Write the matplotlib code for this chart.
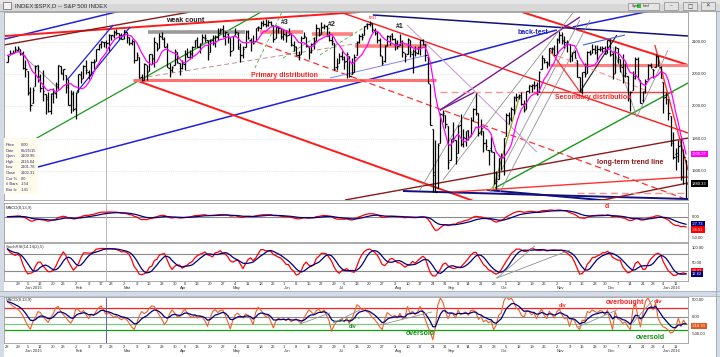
import numpy as np
import pandas as pd
import matplotlib
matplotlib.use("Agg")
import matplotlib.pyplot as plt
from matplotlib.collections import LineCollection
from matplotlib.patches import Rectangle
from matplotlib import transforms

plt.rcParams['font.family'] = ['Liberation Sans', 'DejaVu Sans']

# ---------------- data ----------------
HOLIDAYS = ['2014-12-25', '2015-01-01', '2015-01-19', '2015-02-16', '2015-04-03',
            '2015-05-25', '2015-07-03', '2015-09-07', '2015-11-26', '2015-12-25',
            '2016-01-01', '2016-01-18']
dates = pd.bdate_range('2014-12-22', '2016-01-15')
dates = dates[~dates.isin(pd.to_datetime(HOLIDAYS))]

opens = [
    2069.28, 2081.48, 2083.25, 2084.30, 2087.63, 2088.49, 2082.11,
    2058.90, 2054.44, 2022.15, 2005.55, 2030.61, 2063.45, 2046.13, 2031.58, 2018.40, 2013.75,
    1992.25, 2020.76, 2020.19, 2034.30, 2062.98, 2050.42, 2047.86, 2032.34, 2002.45, 2019.35,
    1996.67, 2022.71, 2048.86, 2043.45, 2062.28, 2053.47, 2049.38, 2068.55, 2069.98, 2088.78,
    2096.47, 2099.16, 2099.25, 2097.65, 2109.83, 2109.10, 2115.30, 2113.91, 2110.88,
    2105.23, 2115.76, 2107.72, 2098.54, 2100.91, 2072.25, 2076.14, 2044.69, 2041.10, 2064.56,
    2055.35, 2080.59, 2072.84, 2098.69, 2090.32, 2107.99, 2103.94, 2093.10, 2059.94, 2055.78,
    2064.11, 2084.05,
    2067.63, 2060.03, 2064.87, 2080.79, 2076.94, 2081.29, 2091.51, 2102.03, 2092.28, 2097.82,
    2105.96, 2102.58, 2084.11, 2102.82, 2098.27, 2107.21, 2112.80, 2119.29, 2108.35, 2112.49,
    2105.52,
    2087.38, 2110.23, 2112.63, 2091.26, 2079.96, 2092.13, 2115.56, 2102.87, 2099.62, 2100.43,
    2122.07, 2121.30, 2129.45, 2127.79, 2125.55, 2130.36, 2125.34, 2105.13, 2122.27, 2120.66,
    2108.64, 2110.41, 2110.64, 2112.35, 2095.09, 2092.34, 2079.07, 2081.12, 2106.24, 2107.43,
    2091.34, 2084.26, 2097.40, 2101.58, 2121.06, 2112.50, 2123.16, 2123.65, 2109.96, 2102.62,
    2098.63, 2061.19,
    2067.00, 2078.03, 2073.95, 2069.52, 2077.66, 2049.73, 2052.74, 2080.03, 2099.72, 2109.21,
    2110.55, 2126.80, 2126.85, 2127.55, 2118.21, 2114.16, 2102.24, 2078.19, 2070.75, 2094.70,
    2106.78, 2111.60,
    2104.49, 2097.68, 2095.27, 2100.75, 2082.61, 2080.98, 2102.66, 2081.10, 2086.19, 2083.15,
    2089.70, 2101.99, 2095.69, 2076.61, 2034.08, 1965.15, 1898.08, 1872.75, 1942.77, 1986.06,
    1986.73,
    1970.09, 1916.52, 1950.79, 1947.76, 1927.74, 1971.45, 1941.59, 1951.45, 1963.06, 1955.10,
    1978.02, 1995.33, 1989.66, 1960.84, 1961.39, 1943.24, 1932.24, 1935.93, 1929.18, 1881.90,
    1887.14,
    1919.65, 1921.77, 1954.33, 1986.63, 1982.34, 1994.01, 2013.73, 2015.65, 2015.00, 2003.66,
    1996.47, 2024.37, 2031.73, 2033.13, 2033.47, 2021.88, 2058.19, 2075.08, 2068.75, 2066.48,
    2088.35, 2090.00,
    2080.76, 2102.63, 2110.60, 2101.68, 2098.60, 2096.56, 2077.19, 2083.41, 2072.29, 2044.64,
    2022.08, 2053.67, 2051.99, 2083.70, 2082.82, 2089.41, 2084.42, 2089.30, 2088.82, 2090.95,
    2082.93, 2101.71, 2080.71, 2051.24, 2090.42, 2073.39, 2061.17, 2047.93, 2047.27, 2013.37,
    2025.55, 2046.50, 2073.76, 2040.81, 2010.27, 2023.15, 2042.20, 2063.52, 2057.77, 2060.54,
    2077.34, 2060.59,
    2038.20, 2013.78, 2011.71, 1985.32, 1945.97, 1926.12, 1927.83, 1940.34, 1891.68, 1916.68,
]
highs = [
    2078.76, 2086.73, 2087.56, 2092.70, 2093.55, 2088.49, 2085.58,
    2072.36, 2054.44, 2030.25, 2029.61, 2064.08, 2064.43, 2049.30, 2056.93, 2018.40, 2021.35,
    2020.46, 2028.94, 2038.29, 2064.62, 2062.98, 2057.62, 2047.86, 2042.49, 2024.64, 2023.32,
    2021.66, 2050.30, 2054.74, 2063.55, 2072.40, 2056.16, 2070.86, 2073.48, 2088.53, 2097.03,
    2101.30, 2100.23, 2102.13, 2111.85, 2110.05, 2117.94, 2119.59, 2113.91, 2112.74,
    2117.52, 2115.76, 2107.72, 2104.25, 2100.91, 2083.49, 2076.14, 2050.08, 2066.41, 2064.56,
    2081.41, 2080.59, 2106.85, 2098.69, 2113.92, 2114.86, 2107.63, 2097.43, 2067.15, 2062.83,
    2088.97, 2084.05,
    2067.63, 2072.17, 2086.99, 2089.81, 2086.69, 2093.31, 2102.61, 2107.65, 2098.62, 2111.91,
    2111.30, 2102.58, 2103.94, 2109.64, 2109.98, 2120.49, 2120.92, 2125.92, 2116.04, 2113.65,
    2105.52,
    2108.41, 2120.95, 2115.24, 2098.42, 2092.90, 2117.66, 2117.69, 2105.06, 2110.19, 2121.45,
    2123.89, 2131.78, 2133.02, 2134.72, 2133.31, 2132.15, 2125.34, 2126.22, 2122.27, 2120.66,
    2119.15, 2117.59, 2121.92, 2112.89, 2100.99, 2093.01, 2085.62, 2108.50, 2115.02, 2107.43,
    2091.34, 2097.40, 2106.79, 2126.65, 2121.64, 2129.87, 2128.03, 2125.10, 2116.04, 2108.92,
    2098.63, 2074.28,
    2082.78, 2085.06, 2078.61, 2083.74, 2077.66, 2074.28, 2081.31, 2100.67, 2111.98, 2114.14,
    2124.42, 2128.91, 2132.82, 2128.49, 2121.06, 2116.87, 2106.01, 2078.19, 2095.60, 2110.60,
    2110.48, 2114.24,
    2105.70, 2102.51, 2112.66, 2103.32, 2082.61, 2105.35, 2102.66, 2089.06, 2092.93, 2092.45,
    2102.87, 2103.47, 2096.17, 2076.61, 2034.08, 1965.15, 1948.04, 1943.09, 1989.60, 1993.48,
    1986.73,
    1970.09, 1948.91, 1975.01, 1947.76, 1970.42, 1988.63, 1965.29, 1961.05, 1963.06, 1983.19,
    1997.26, 2020.86, 1989.66, 1979.64, 1961.39, 1949.52, 1932.24, 1952.89, 1929.18, 1899.48,
    1920.53,
    1927.21, 1951.36, 1989.17, 1991.62, 1999.31, 2016.50, 2020.13, 2018.66, 2022.34, 2009.56,
    2024.15, 2033.54, 2034.45, 2039.12, 2037.97, 2055.20, 2079.74, 2075.14, 2070.37, 2090.35,
    2092.52, 2094.32,
    2106.20, 2116.48, 2114.59, 2108.78, 2101.91, 2096.56, 2083.67, 2086.94, 2072.29, 2044.64,
    2053.22, 2066.69, 2085.31, 2086.74, 2097.06, 2095.61, 2094.12, 2093.00, 2093.29, 2093.81,
    2103.37, 2104.27, 2085.00, 2093.84, 2090.42, 2073.85, 2080.33, 2067.65, 2047.27, 2022.92,
    2053.87, 2076.72, 2076.37, 2040.81, 2022.90, 2042.74, 2064.73, 2067.36, 2057.77, 2081.56,
    2077.34, 2062.54,
    2038.20, 2021.94, 2011.71, 1985.32, 1960.40, 1935.65, 1947.38, 1950.33, 1934.47, 1916.68,
]
lows = [
    2069.28, 2079.77, 2081.86, 2084.30, 2085.75, 2079.53, 2057.94,
    2046.04, 2017.34, 1992.44, 2005.55, 2030.61, 2038.33, 2022.58, 2008.25, 1988.44, 1991.47,
    1988.12, 2004.49, 2012.04, 2026.38, 2050.54, 2040.97, 2019.91, 2001.49, 1989.18, 1993.38,
    1980.90, 2022.71, 2036.72, 2043.45, 2049.97, 2041.88, 2048.62, 2057.99, 2069.98, 2086.70,
    2089.80, 2092.15, 2090.79, 2085.44, 2102.68, 2105.87, 2109.89, 2103.76, 2103.75,
    2104.50, 2098.26, 2094.49, 2095.22, 2067.27, 2072.21, 2044.16, 2039.69, 2041.10, 2041.17,
    2055.35, 2065.08, 2061.23, 2085.56, 2090.32, 2104.42, 2091.50, 2061.05, 2045.50, 2052.96,
    2064.11, 2067.04,
    2048.38, 2057.32, 2056.52, 2076.10, 2073.30, 2074.29, 2091.51, 2092.33, 2083.24, 2097.82,
    2100.02, 2072.37, 2084.11, 2094.38, 2091.05, 2103.19, 2112.80, 2107.04, 2094.89, 2097.41,
    2077.59,
    2087.38, 2110.23, 2088.46, 2067.93, 2074.99, 2092.13, 2104.58, 2085.57, 2096.04, 2100.43,
    2116.81, 2120.01, 2124.50, 2122.59, 2124.21, 2126.06, 2099.18, 2105.13, 2112.86, 2104.89,
    2102.54, 2099.14, 2109.61, 2093.23, 2085.67, 2079.11, 2072.14, 2081.12, 2106.24, 2091.33,
    2072.49, 2082.10, 2088.86, 2101.58, 2109.45, 2112.50, 2119.89, 2108.58, 2101.78, 2095.38,
    2056.64, 2056.32,
    2067.00, 2071.02, 2058.40, 2044.02, 2044.66, 2049.73, 2052.74, 2080.03, 2098.18, 2102.49,
    2110.55, 2119.88, 2123.66, 2115.40, 2110.19, 2098.63, 2077.09, 2063.52, 2069.09, 2094.08,
    2094.97, 2102.07,
    2087.31, 2088.60, 2095.27, 2075.53, 2067.91, 2080.98, 2076.49, 2052.09, 2078.26, 2080.61,
    2079.30, 2094.14, 2070.53, 2035.73, 1970.89, 1867.01, 1867.08, 1872.75, 1942.77, 1975.19,
    1965.98,
    1903.07, 1916.52, 1944.72, 1911.21, 1927.74, 1937.88, 1937.19, 1939.19, 1948.27, 1954.30,
    1977.93, 1986.73, 1953.45, 1955.80, 1929.22, 1932.57, 1908.92, 1929.34, 1879.21, 1871.91,
    1887.14,
    1900.70, 1893.70, 1954.33, 1971.99, 1976.44, 1987.53, 2007.61, 2010.55, 2001.78, 1990.73,
    1996.47, 2020.46, 2022.31, 2026.61, 2017.22, 2021.88, 2058.19, 2066.53, 2058.84, 2063.11,
    2082.63, 2079.34,
    2080.76, 2097.51, 2096.98, 2090.41, 2083.74, 2068.24, 2069.91, 2074.85, 2045.66, 2022.02,
    2019.39, 2045.90, 2051.99, 2078.76, 2082.82, 2081.39, 2070.29, 2086.30, 2084.13, 2080.41,
    2082.93, 2077.11, 2042.35, 2051.24, 2066.78, 2052.32, 2036.53, 2045.67, 2008.80, 1993.26,
    2025.55, 2042.43, 2041.66, 2005.33, 2005.93, 2020.49, 2042.20, 2058.73, 2044.20, 2060.54,
    2061.97, 2043.62,
    1989.68, 2004.17, 1979.05, 1938.83, 1918.46, 1901.10, 1914.35, 1886.41, 1878.93, 1857.83,
]
closes = [
    2078.54, 2082.17, 2081.88, 2088.77, 2090.57, 2080.35, 2058.90,
    2058.20, 2020.58, 2002.61, 2025.90, 2062.14, 2044.81, 2028.26, 2023.03, 2011.27, 1992.67,
    2019.42, 2022.55, 2032.12, 2063.15, 2051.82, 2057.09, 2029.55, 2002.16, 2021.25, 1994.99,
    2020.85, 2050.03, 2041.51, 2062.52, 2055.47, 2046.74, 2068.59, 2068.53, 2088.48, 2096.99,
    2100.34, 2099.68, 2097.45, 2110.30, 2109.66, 2115.48, 2113.86, 2110.74, 2104.50,
    2117.39, 2107.78, 2098.53, 2101.04, 2071.26, 2079.43, 2044.16, 2040.24, 2065.95, 2053.40,
    2081.19, 2074.28, 2099.50, 2089.27, 2108.10, 2104.42, 2091.50, 2061.05, 2056.15, 2061.02,
    2086.24, 2067.89,
    2059.69, 2066.96, 2080.62, 2076.33, 2081.90, 2091.18, 2102.06, 2092.43, 2095.84, 2106.63,
    2104.99, 2081.18, 2100.40, 2097.29, 2107.96, 2112.93, 2117.69, 2108.92, 2114.76, 2106.85,
    2085.51,
    2108.29, 2114.49, 2089.46, 2080.15, 2088.00, 2116.10, 2105.33, 2099.12, 2098.48, 2121.10,
    2122.73, 2129.20, 2127.83, 2125.85, 2130.82, 2126.06, 2104.20, 2123.48, 2120.79, 2107.39,
    2111.73, 2109.60, 2114.07, 2095.84, 2092.83, 2079.28, 2080.15, 2105.20, 2108.86, 2094.11,
    2084.43, 2096.29, 2100.44, 2121.24, 2109.99, 2122.85, 2124.20, 2108.58, 2102.31, 2101.49,
    2057.64, 2063.11,
    2077.42, 2076.78, 2068.76, 2081.34, 2046.68, 2051.31, 2076.62, 2099.60, 2108.95, 2107.40,
    2124.29, 2126.64, 2128.28, 2119.21, 2114.15, 2102.15, 2079.65, 2067.64, 2093.25, 2108.57,
    2108.63, 2103.84,
    2098.04, 2093.32, 2099.84, 2083.56, 2077.57, 2104.18, 2084.07, 2086.05, 2083.39, 2091.54,
    2102.44, 2096.92, 2079.61, 2035.73, 1970.89, 1893.21, 1867.61, 1940.51, 1987.66, 1988.87,
    1972.18,
    1913.85, 1948.86, 1951.13, 1921.22, 1969.41, 1942.04, 1952.29, 1961.05, 1953.03, 1978.09,
    1995.31, 1990.20, 1958.03, 1966.97, 1942.74, 1938.76, 1932.24, 1931.34, 1881.77, 1884.09,
    1920.03,
    1923.82, 1951.36, 1987.05, 1979.92, 1995.83, 2013.43, 2014.89, 2017.46, 2003.69, 1994.24,
    2023.86, 2033.11, 2033.66, 2030.77, 2018.94, 2052.51, 2075.15, 2071.18, 2065.89, 2090.35,
    2089.41, 2079.36,
    2104.05, 2109.79, 2102.31, 2099.93, 2099.20, 2078.58, 2081.72, 2075.00, 2045.97, 2023.04,
    2053.19, 2050.44, 2083.58, 2081.24, 2089.17, 2086.59, 2089.14, 2088.87, 2090.11, 2080.41,
    2102.63, 2079.51, 2049.62, 2091.69, 2077.07, 2063.59, 2047.62, 2052.23, 2012.37, 2021.94,
    2043.41, 2073.07, 2041.89, 2005.55, 2021.15, 2038.97, 2064.29, 2060.99, 2056.50, 2078.36,
    2063.36, 2043.94,
    2012.66, 2016.71, 1990.26, 1943.09, 1922.03, 1923.67, 1938.68, 1890.28, 1921.84, 1880.33,
]
# lower pane oscillator
breadth_macd = [
    440, 380, 320, 260, 220, 150, 40,
    -120, -260, -370, -150, -20, 150, 120, 0, -80, -170, -40, 80, 260, 300, 160, 60, -20, -120, -190, -60,
    240, 200, 120, 180, 60, -60, 80, 30, 160, 260, 320, 180, 60, 120, 40, -20, 30, -40, -90,
    -40, -90, -180, -300, -380, -200, 20, 150, 90, 140, 250, 320, 300, 160, 40, -80, -235, -120, 80, 200, 110, 0,
    0, 120, 225, 100, 20, -20, 40, -40, 10, -30, -120, -285, -40, 150, 210, 120, 180, 200, 40, -150, -360,
    -100, 60, 100, 20, -40, 80, 40, -60, -235, 120, 280, 200, 90, 0, 40, -150, -330, -120, -40, -90,
    -60, -120, -40, -150, -100, -60, -140, -185, -60, 80, 200, 140, 60, 180, 220, 120, 200, 40, -120, -430, -250, -150,
    -120, -60, -150, -40, -200, -60, 120, 350, 300, 200, 250, 150, 100, -20, -80, -180, -300, -380, -80, 120, 60, 0,
    40, -40, 100, -60, -20, 300, 100, 160, 60, 150, 300, 150, -80, -285, -450, -680, -300, 350, 550, 420, 150,
    -60, 120, 80, -40, 200, 60, 100, 140, 40, 180, 200, 120, -80, 0, -150, -100, -180, -120, -380, -250, 40,
    100, 450, 600, 500, 550, 420, 250, 200, 40, -20, 180, 150, 60, 100, -60, 120, 220, 40, -60, 160, 60, -40,
    150, 220, 60, -60, -30, -285, -60, -120, -300, -380, -100, -120, 150, 120, 200, 150, 120, 180, 160, 60,
    200, -120, -380, 150, -60, -100, -200, -150, -285, -380, 200, 400, 0, -300, 100, 450, 550, 400, 200, 400, -50, -200,
    -300, -330, -400, -480, -450, -300, -40, -285, -100, -218.7,
]
price_ticks = [1900, 1950, 2000, 2050, 2100]
macd_ticks = [0, -50]
stoch_ticks = [100, 50]
lower_ticks = [500, 0, -500]
last_labels = {'sma': '1926.27', 'close': '1880.33', 'macd_sig': '-27.73', 'macd': '-36.51',
               'k': '19.41', 'd': '12.62', 'lower': '-218.70'}

# ---------------- indicators ----------------
n = len(closes)
idx = np.arange(n)
c = pd.Series(closes)
hi = pd.Series(highs)
lo = pd.Series(lows)
sma8 = c.rolling(8, min_periods=1).mean()
macd = c.ewm(span=8, adjust=False).mean() - c.ewm(span=13, adjust=False).mean()
macd_sig = macd.ewm(span=9, adjust=False).mean()
ll = lo.rolling(14, min_periods=1).min()
hh = hi.rolling(14, min_periods=1).max()
rawk = 100 * (c - ll) / (hh - ll)
stk = rawk.rolling(3, min_periods=1).mean()
std = stk.rolling(5, min_periods=1).mean()
lower = pd.Series(breadth_macd, dtype=float)
lower_sig = lower.ewm(span=6, adjust=False).mean()

# ---------------- figure ----------------
W, H = 720, 357
fig = plt.figure(figsize=(7.2, 3.57), dpi=100, facecolor='white')

bg = fig.add_axes([0, 0, 1, 1], zorder=-10)
bg.set_xlim(0, W); bg.set_ylim(H, 0); bg.axis('off')
frame_c = '#d3dbe7'
bg.add_patch(Rectangle((0, 0), W, 11, fc='#d8d8d8', ec='none'))
bg.add_patch(Rectangle((0, 0), W, 4, fc='#e6e6e6', ec='none'))
bg.plot([0, W], [11, 11], color='#9a9a9a', lw=0.6)
bg.add_patch(Rectangle((0, 11), 3.5, H, fc=frame_c, ec='none'))
bg.add_patch(Rectangle((715.5, 11), 5, H, fc=frame_c, ec='none'))
bg.plot([715.5, 715.5], [11, H], color='#9aa5b5', lw=0.6)
bg.add_patch(Rectangle((0, 290.5), W, 5.5, fc=frame_c, ec='none'))
bg.plot([0, W], [290.5, 290.5], color='#9aa5b5', lw=0.5)
bg.plot([0, W], [296, 296], color='#9aa5b5', lw=0.5)
bg.add_patch(Rectangle((3, 2), 8, 7, fc='#f4f4f4', ec='#606060', lw=0.5))
bg.text(15, 5.8, 'INDEX:$SPX,D -- S&P 500 INDEX', fontsize=4.3, color='#303030', va='center')
bg.add_patch(Rectangle((628, 3), 31, 6.5, fc='#e4e4e4', ec='#8a8a8a', lw=0.5))
bg.add_patch(Rectangle((637, 4.3), 4, 4, fc='#30c030', ec='none'))
bg.text(632, 6.3, 'Sym', fontsize=2.6, va='center', color='#202020')
bg.text(643, 6.3, 'Intvl', fontsize=2.6, va='center', color='#202020')
for x0, g in [(664, '–'), (683, '□'), (701, '✕')]:
    bg.add_patch(Rectangle((x0, 2), 14, 8, fc='#e2e2e2', ec='#8a8a8a', lw=0.5))
    bg.text(x0 + 7, 6.2, g, fontsize=4, ha='center', va='center', color='#404040',
            family=['DejaVu Sans'])


def px_axes(x0, y0, x1, y1):
    a = fig.add_axes([x0 / W, 1 - y1 / H, (x1 - x0) / W, (y1 - y0) / H])
    a.set_xticks([]); a.set_yticks([])
    for s in a.spines.values():
        s.set_color('#9c9c9c'); s.set_linewidth(0.6)
    a.set_facecolor('white')
    a.set_xlim(-1.4, 268.8)
    return a


ax = px_axes(4, 12, 688, 200)
axm = px_axes(4, 203, 688, 242)
axs = px_axes(4, 243, 688, 281)
axb = px_axes(4, 297, 688, 343)
ax.set_ylim(1854.8, 2146.0)
axm.set_ylim(-60.2, 32.6)
axs.set_ylim(-13.9, 118.5)
axb.set_ylim(-774, 579)

LBL = 3.0


def right_label(a, v, txt, color=None, tc='#202020'):
    tr = transforms.blended_transform_factory(a.transAxes, a.transData)
    kw = dict(transform=tr, fontsize=LBL, va='center', ha='left', clip_on=False, color=tc)
    if color:
        kw['bbox'] = dict(boxstyle='square,pad=0.25', fc=color, ec='none')
    a.text(1.006, v, txt, **kw)


# ---------- main price pane ----------
for v in price_ticks:
    ax.axhline(v, color='#cfcfcf', lw=0.5, ls=(0, (1, 2)), zorder=0)
    right_label(ax, v, f'{v:.2f}')
ax.axvline(39, color='#b0b0b0', lw=0.6, zorder=0)

segs = []
for i in range(n):
    segs.append([(i, lows[i]), (i, highs[i])])
    segs.append([(i - 0.5, opens[i]), (i, opens[i])])
    segs.append([(i, closes[i]), (i + 0.5, closes[i])])
ax.add_collection(LineCollection(segs, colors='black', linewidths=0.9, zorder=3))
ax.plot(idx, sma8, color='#ff00ff', lw=0.9, zorder=4)

# user-drawn trend lines: (bar0, price0, bar1, price1, color, lw, style)
trend_lines = [
    (-2, 2103.2, 50, 2152.8, '#2020e0', 1.1, '-'),
    (-1, 2108.8, 139.2, 2146.0, '#ff1a1a', 1.4, '-'),
    (-1.4, 2094.9, 72.1, 2146.0, '#8b1a1a', 1.0, '-'),
    (8.1, 1943.1, 100.9, 2147.6, '#1a9a1a', 0.9, '-'),
    (12.0, 1905.9, 217.0, 2118.1, '#2020e0', 1.1, '-'),
    (223.3, 2122.8, 255.7, 2149.1, '#2020e0', 1.1, '-'),
    (50.4, 2040.7, 188.6, 1847.0, '#ff1a1a', 1.4, '-'),
    (49.6, 2040.7, 169.2, 2040.7, '#ff7070', 2.2, '-'),
    (98.5, 2099.5, 268.8, 1854.8, '#ff3030', 0.9, (0, (5, 3))),
    (203.2, 2146.0, 268.8, 2063.9, '#ff1a1a', 1.4, '-'),
    (131.3, 2146.0, 268.8, 1958.6, '#ff1a1a', 1.0, '-'),
    (144.3, 2141.4, 268.8, 2108.8, '#101080', 1.1, '-'),
    (156.2, 1868.7, 268.8, 1856.3, '#101080', 1.4, '-'),
    (189.4, 1870.3, 243.1, 1851.7, '#101080', 1.4, '-'),
    (133.3, 1854.8, 268.8, 1950.8, '#8b1a1a', 1.0, '-'),
    (231.2, 1851.7, 268.8, 1881.2, '#8b1a1a', 1.0, '-'),
    (175.9, 1867.2, 268.8, 1890.4, '#ff3030', 1.0, '-'),
    (224.9, 1866.0, 268.8, 1866.0, '#ff9090', 1.0, (0, (5, 3))),
    (255.7, 2094.9, 268.8, 1901.1, '#ff3030', 1.0, '-'),
    (192.5, 1873.3, 268.8, 2036.0, '#1a9a1a', 1.0, '-'),
    (170.8, 1994.0, 226.1, 2138.3, '#7a1a9a', 1.0, '-'),
    (170.8, 1994.0, 184.6, 2022.1, '#7a1a9a', 1.0, '-'),
    (157.8, 2125.9, 209.1, 1929.1, '#c8a0d8', 0.8, '-'),
    (162.9, 1870.3, 185.8, 2022.1, '#909090', 0.6, '-'),
    (172.0, 1885.9, 223.3, 2144.5, '#909090', 0.6, '-'),
    (190.6, 1867.2, 226.1, 2133.6, '#909090', 0.6, '-'),
    (194.5, 1867.2, 230.1, 2133.6, '#909090', 0.6, '-'),
    (214.2, 2063.9, 269.5, 2063.9, '#ff8080', 2.2, '-'),
    (207.6, 2022.1, 262.8, 2022.1, '#ff4040', 1.0, '-'),
    (170.8, 2022.1, 207.6, 2022.1, '#ff9090', 1.0, (0, (5, 3))),
    (55.5, 2115.0, 93.8, 2115.0, '#9a9a9a', 2.6, '-'),
    (99.7, 2115.0, 116.7, 2115.0, '#ff8080', 2.6, '-'),
    (120.3, 2111.9, 136.5, 2111.9, '#ff8080', 2.6, '-'),
    (137.2, 2093.3, 165.7, 2093.3, '#ff8080', 2.6, '-'),
    (23.5, 2040.7, 41.7, 2125.9, '#2020e0', 0.9, '-'),
    (27.4, 2022.1, 48.4, 2122.8, '#2020e0', 0.9, '-'),
    (97.7, 2059.3, 108.4, 2146.0, '#40b040', 0.6, (0, (4, 3))),
    (108.8, 2074.7, 127.4, 2121.2, '#40b040', 0.6, (0, (4, 3))),
    (123.4, 2079.4, 142.4, 2125.9, '#40b040', 0.6, (0, (4, 3))),
    (52.3, 2043.7, 139.2, 2098.0, '#c09090', 0.7, (0, (5, 3))),
    (3.75, 2087.1, 20.7, 2025.2, '#909090', 0.6, '-'),
    (127.4, 2043.8, 166.1, 2079.4, '#8080ff', 0.7, '-'),
    (191.7, 1870.3, 202.4, 2017.4, '#9a9a10', 0.8, '-'),
    (214.2, 2087.1, 226.1, 2022.1, '#ff3030', 0.9, '-'),
    (226.1, 2022.1, 240.7, 2110.4, '#202020', 0.8, '-'),
    (227.3, 2094.9, 243.9, 2110.4, '#4060e0', 0.8, '-'),
    (239.1, 2091.8, 248.6, 1983.3, '#909090', 0.6, '-'),
    (248.6, 1983.3, 260.9, 2087.1, '#909090', 0.6, '-'),
    (214.2, 2082.6, 251.8, 2025.2, '#ff9090', 0.8, (0, (5, 3))),
]
for b0, p0, b1, p1, col, lw, ls in trend_lines:
    ax.plot([b0, b1], [p0, p1], color=col, lw=lw, ls=ls, zorder=2, solid_capstyle='butt')

tkw = dict(fontsize=5.0, fontweight='bold', ha='center', va='center', zorder=6)
ax.text(70.1, 2133.6, 'weak count', color='#202020', **tkw)
ax.text(109.6, 2129.0, '#3', color='#202020', **tkw)
ax.text(128.2, 2127.4, '#2', color='#202020', **tkw)
ax.text(155.0, 2122.8, '#1', color='#202020', **tkw)
ax.text(144.3, 2137.0, 'test', color='#ff3030', fontsize=3.4, ha='center', va='center', zorder=6)
ax.text(109.6, 2048.4, 'Primary distribution', color='#ff2020', **tkw)
ax.text(207.5, 2115.0, 'back-test', color='#2020d0', **tkw)
ax.text(231.2, 2014.3, 'Secondary distribution', color='#ff2020', **tkw)
ax.text(245.8, 1913.6, 'long-term trend line', color='#8b1a1a', **tkw)

right_label(ax, sma8.iloc[-1], last_labels['sma'], color='#ff00ff', tc='white')
right_label(ax, closes[-1], last_labels['close'], color='#000000', tc='white')

# info box
ax.add_patch(Rectangle((0.0, 0.03), 0.05, 0.3, transform=ax.transAxes, fc='#fffbea',
                       ec='none', zorder=5))
info = [('Price', '0.00'), ('Date', '06/25/15'), ('Open', '2109.96'), ('High', '2116.04'),
        ('Low', '2101.78'), ('Close', '2102.31'), ('Cur %', '0.0'), ('# Bars', '-154'),
        ('Bar Ix', '-141')]
for k, (a_, b_) in enumerate(info):
    yy = 0.291 - k * 0.0295
    ax.text(0.003, yy, a_, transform=ax.transAxes, fontsize=2.9, color='#303070', va='center', zorder=6)
    ax.text(0.024, yy, b_, transform=ax.transAxes, fontsize=2.9, color='#303070', va='center', zorder=6)

# ---------- MACD pane ----------
axm.axhline(0, color='#8a8a8a', lw=0.8)
axm.axvline(39, color='#b0b0b0', lw=0.6)
axm.plot(idx, macd, color='#ff0000', lw=0.9)
axm.plot(idx, macd_sig, color='#000080', lw=0.9)
axm.text(0.003, 0.93, 'MACD(8,13,9)', transform=axm.transAxes, fontsize=3.0, va='top', color='#303030')
axm.text(236.8, 23.1, 'd', color='#ff2020', fontsize=5, fontweight='bold', ha='center', va='center')
for v in macd_ticks:
    right_label(axm, v, f'{v:.2f}')
right_label(axm, macd_sig.iloc[-1], last_labels['macd_sig'], color='#000080', tc='white')
right_label(axm, macd.iloc[-1] - 6, last_labels['macd'], color='#ff0000', tc='white')

# ---------- Stochastic pane ----------
for v in (80, 20):
    axs.axhline(v, color='#8a8a8a', lw=0.8)
axs.axvline(39, color='#b0b0b0', lw=0.6)
axs.plot(idx, stk, color='#ff0000', lw=0.9)
axs.plot(idx, std, color='#000080', lw=0.9)
axs.plot([193.3, 208.3], [-3.5, 108], color='#909090', lw=0.6)
axs.plot([193.3, 222.2], [-3.5, 94], color='#909090', lw=0.6)
axs.text(0.003, 0.95, 'StochRSI(14,14(2),5)', transform=axs.transAxes, fontsize=3.0, va='top', color='#303030')
for v in stoch_ticks:
    right_label(axs, v, f'{v:.2f}')
right_label(axs, 21, last_labels['k'], color='#ff0000', tc='white')
right_label(axs, 9, last_labels['d'], color='#000080', tc='white')

# ---------- lower oscillator pane ----------
axb.axhline(0, color='#8a8a8a', lw=0.8)
axb.axhline(260, color='#ff2020', lw=0.9)
axb.axhline(-220, color='#80c880', lw=0.9)
axb.axhline(-400, color='#10a010', lw=0.9)
axb.axvline(39, color='#6060c0', lw=0.7)
axb.plot(idx, lower, color='#f0602a', lw=0.8)
axb.plot(idx, lower_sig, color='#000080', lw=0.9)
for b0, v0, b1, v1, col, ls in [
    (115.5, -215, 127.4, 109, '#909090', '-'),
    (128.6, -185, 139.2, 197, '#909090', '-'),
    (147.1, -244, 167.6, 138, '#909090', '-'),
    (225.3, -303, 240.7, 197, '#909090', '-'),
    (247.0, -185, 254.9, 491, '#909090', '-'),
    (128.6, -156, 139.2, -38, '#40b040', (0, (3, 2))),
]:
    axb.plot([b0, b1], [v0, v1], color=col, lw=0.6, ls=ls)
axb.text(0.003, 0.97, 'MACD(8,13,9)', transform=axb.transAxes, fontsize=3.0, va='top', color='#303030')
bk = dict(fontsize=5.0, fontweight='bold', ha='center', va='center')
axb.text(136.1, -303, 'div', color='#109010', fontsize=3.8, fontweight='bold', ha='center', va='center')
axb.text(162.9, -509, 'oversold', color='#109010', **bk)
axb.text(219.4, 315, 'div', color='#ff2020', fontsize=3.8, fontweight='bold', ha='center', va='center')
axb.text(243.9, 403, 'overbought', color='#ff2020', **bk)
axb.text(256.9, 438, 'div', color='#ff2020', fontsize=4.2, fontweight='bold', ha='center', va='center')
axb.text(253.8, -626, 'oversold', color='#109010', **bk)
for v in lower_ticks:
    right_label(axb, v, f'{v:.2f}')
right_label(axb, lower.iloc[-1] - 50, last_labels['lower'], color='#e05a20', tc='white')

# ---------- date axes ----------
week_starts = [i for i in range(n) if i == 0 or dates[i].weekday() < dates[i - 1].weekday()]
month_starts = [i for i in range(1, n) if dates[i].month != dates[i - 1].month]


def date_axis(a, y_day, y_mon, skip_first):
    tr = transforms.blended_transform_factory(a.transData, a.transAxes)
    for i in week_starts:
        if skip_first and i == 0:
            continue
        a.text(i, y_day, str(dates[i].day), transform=tr, fontsize=3.0, ha='center', va='center',
               color='#303030', clip_on=False)
    for i in month_starts:
        lab = dates[i].strftime('%b') + (dates[i].strftime(' %Y') if dates[i].month == 1 else '')
        a.text(i, y_mon, lab, transform=tr, fontsize=3.0, ha='left', va='center',
               color='#303030', clip_on=False)


date_axis(axs, -0.09, -0.195, True)
date_axis(axb, -0.085, -0.165, False)

fig.savefig('out.png', dpi=100, facecolor='white')
